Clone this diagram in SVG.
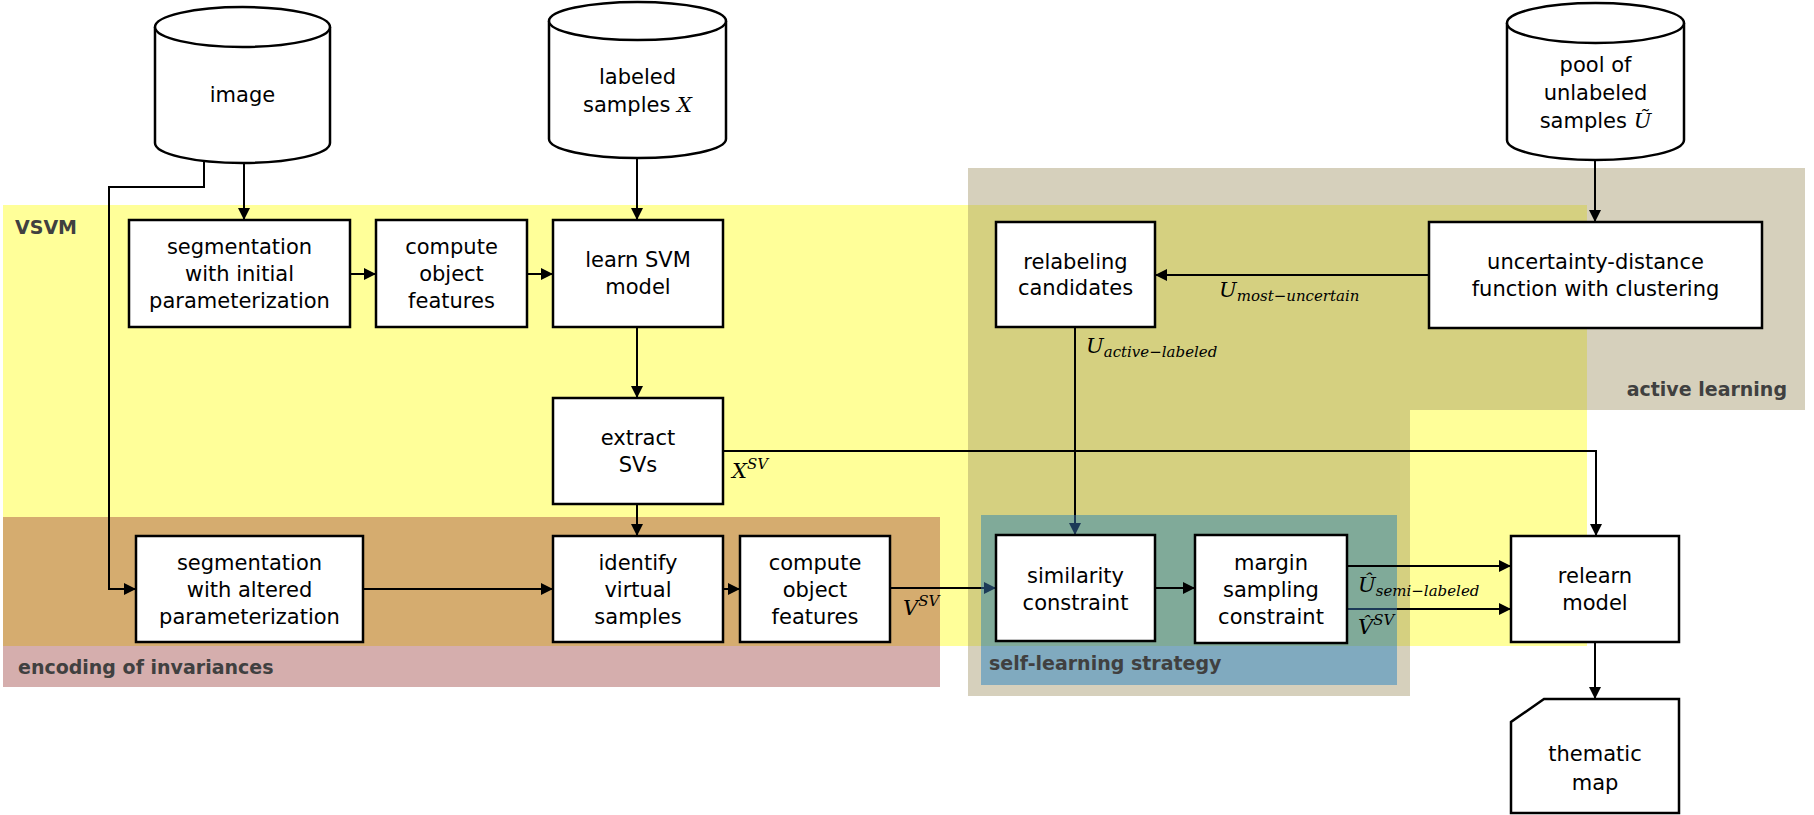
<svg xmlns="http://www.w3.org/2000/svg" width="1814" height="815" viewBox="0 0 1814 815">
<style>
.box{fill:#fff;stroke:#000;stroke-width:2.5}
.t{font-family:"DejaVu Sans",sans-serif;font-size:21px;fill:#000;text-anchor:middle}
.lab{font-family:"DejaVu Sans",sans-serif;font-size:19px;font-weight:bold;fill:#404040}
.m{font-family:"DejaVu Serif",serif;font-style:italic;font-size:21px;fill:#000}
.c{fill:none;stroke:#000;stroke-width:2}
.cn{fill:none;stroke:#1c3a58;stroke-width:2}
</style>
<defs>
<marker id="a" markerUnits="userSpaceOnUse" markerWidth="12" markerHeight="12" refX="12" refY="6" orient="auto"><path d="M0,0 L12,6 L0,12 Z" fill="#000"/></marker>
<marker id="an" markerUnits="userSpaceOnUse" markerWidth="12" markerHeight="12" refX="12" refY="6" orient="auto"><path d="M0,0 L12,6 L0,12 Z" fill="#1c3a58"/></marker>
</defs>
<g id="regions">
<rect x="3" y="205" width="1584" height="441" fill="#ffff99"/>
<path d="M968,168 H1805 V410 H1410 V696 H968 Z" fill="#d6d0bc"/>
<path d="M968,205 H1587 V410 H1410 V646 H968 Z" fill="#d5d080"/>
<rect x="3" y="517" width="937" height="129" fill="#d5ac6f"/>
<rect x="3" y="646" width="937" height="41" fill="#d5aead"/>
<rect x="981" y="515" width="416" height="131" fill="#80aa99"/>
<rect x="981" y="646" width="416" height="39" fill="#80aabf"/>
<text class="lab" x="15" y="234">VSVM</text>
<text class="lab" x="18" y="674">encoding of invariances</text>
<text class="lab" x="1787" y="396" text-anchor="end">active learning</text>
<text class="lab" x="989" y="670">self-learning strategy</text>
</g>
<g id="connectors">
<path class="c" d="M244,163 V220" marker-end="url(#a)"/>
<path class="c" d="M204,161 V187 H109 V589 H136" marker-end="url(#a)"/>
<path class="c" d="M637,158 V220" marker-end="url(#a)"/>
<path class="c" d="M350,274 H376" marker-end="url(#a)"/>
<path class="c" d="M527,274 H553" marker-end="url(#a)"/>
<path class="c" d="M637,327 V398" marker-end="url(#a)"/>
<path class="c" d="M637,504 V536" marker-end="url(#a)"/>
<path class="c" d="M723,451 H1596 V536" marker-end="url(#a)"/>
<path class="c" d="M363,589 H553" marker-end="url(#a)"/>
<path class="c" d="M723,589 H740" marker-end="url(#a)"/>
<path class="c" d="M890,588 H981"/>
<path class="cn" d="M981,588 H996" marker-end="url(#an)"/>
<path class="c" d="M1595,160 V222" marker-end="url(#a)"/>
<path class="c" d="M1429,275 H1155" marker-end="url(#a)"/>
<path class="c" d="M1075,327 V515"/>
<path class="cn" d="M1075,515 V535" marker-end="url(#an)"/>
<path class="c" d="M1155,588 H1195" marker-end="url(#a)"/>
<path class="c" d="M1347,566 H1511" marker-end="url(#a)"/>
<path class="cn" d="M1347,609 H1397"/>
<path class="c" d="M1397,609 H1511" marker-end="url(#a)"/>
<path class="c" d="M1595,642 V699" marker-end="url(#a)"/>
<text class="m" x="732" y="478">X<tspan font-size="15" dy="-9">SV</tspan></text>
<text class="m" x="903" y="615">V<tspan font-size="15" dy="-9">SV</tspan></text>
<text class="m" x="1219" y="297">U<tspan font-size="15" dy="4">most−uncertain</tspan></text>
<text class="m" x="1086" y="353">U<tspan font-size="15" dy="4">active−labeled</tspan></text>
<text class="m" x="1358" y="592">Û<tspan font-size="15" dy="4">semi−labeled</tspan></text>
<text class="m" x="1358" y="634">V̂<tspan font-size="15" dy="-9">SV</tspan></text>
</g>
<g id="image">
<path class="box" d="M155,27 A87.5,20 0 0 1 330,27 V143 A87.5,20 0 0 1 155,143 Z"/>
<path class="box" d="M155,27 A87.5,20 0 0 0 330,27" fill="none"/>
<text class="t" x="242.5" y="102">image</text>
</g>
<g id="labeled-samples">
<path class="box" d="M549,21 A88.5,19 0 0 1 726,21 V139 A88.5,19 0 0 1 549,139 Z"/>
<path class="box" d="M549,21 A88.5,19 0 0 0 726,21" fill="none"/>
<text class="t" x="637.5" y="84">labeled</text>
<text class="t" x="637.5" y="112">samples <tspan font-family="DejaVu Serif" font-style="italic">X</tspan></text>
</g>
<g id="pool">
<path class="box" d="M1507,23 A88.5,20 0 0 1 1684,23 V140 A88.5,20 0 0 1 1507,140 Z"/>
<path class="box" d="M1507,23 A88.5,20 0 0 0 1684,23" fill="none"/>
<text class="t" x="1595.5" y="72">pool of</text>
<text class="t" x="1595.5" y="100">unlabeled</text>
<text class="t" x="1595.5" y="128">samples <tspan font-family="DejaVu Serif" font-style="italic">Ũ</tspan></text>
</g>
<g id="seg-initial">
<rect class="box" x="129" y="220" width="221" height="107"/>
<text class="t" x="239.5" y="254">segmentation</text>
<text class="t" x="239.5" y="281">with initial</text>
<text class="t" x="239.5" y="308">parameterization</text>
</g>
<g id="compute1">
<rect class="box" x="376" y="220" width="151" height="107"/>
<text class="t" x="451.5" y="254">compute</text>
<text class="t" x="451.5" y="281">object</text>
<text class="t" x="451.5" y="308">features</text>
</g>
<g id="learn">
<rect class="box" x="553" y="220" width="170" height="107"/>
<text class="t" x="638" y="267">learn SVM</text>
<text class="t" x="638" y="294">model</text>
</g>
<g id="extract">
<rect class="box" x="553" y="398" width="170" height="106"/>
<text class="t" x="638" y="445">extract</text>
<text class="t" x="638" y="472">SVs</text>
</g>
<g id="seg-altered">
<rect class="box" x="136" y="536" width="227" height="106"/>
<text class="t" x="249.5" y="570">segmentation</text>
<text class="t" x="249.5" y="597">with altered</text>
<text class="t" x="249.5" y="624">parameterization</text>
</g>
<g id="identify">
<rect class="box" x="553" y="536" width="170" height="106"/>
<text class="t" x="638" y="570">identify</text>
<text class="t" x="638" y="597">virtual</text>
<text class="t" x="638" y="624">samples</text>
</g>
<g id="compute2">
<rect class="box" x="740" y="536" width="150" height="106"/>
<text class="t" x="815" y="570">compute</text>
<text class="t" x="815" y="597">object</text>
<text class="t" x="815" y="624">features</text>
</g>
<g id="relabeling">
<rect class="box" x="996" y="222" width="159" height="105"/>
<text class="t" x="1075.5" y="269">relabeling</text>
<text class="t" x="1075.5" y="295">candidates</text>
</g>
<g id="uncertainty">
<rect class="box" x="1429" y="222" width="333" height="106"/>
<text class="t" x="1595.5" y="269">uncertainty-distance</text>
<text class="t" x="1595.5" y="296">function with clustering</text>
</g>
<g id="similarity">
<rect class="box" x="996" y="535" width="159" height="106"/>
<text class="t" x="1075.5" y="583">similarity</text>
<text class="t" x="1075.5" y="610">constraint</text>
</g>
<g id="margin">
<rect class="box" x="1195" y="535" width="152" height="108"/>
<text class="t" x="1271" y="570">margin</text>
<text class="t" x="1271" y="597">sampling</text>
<text class="t" x="1271" y="624">constraint</text>
</g>
<g id="relearn">
<rect class="box" x="1511" y="536" width="168" height="106"/>
<text class="t" x="1595" y="583">relearn</text>
<text class="t" x="1595" y="610">model</text>
</g>
<g id="thematic-map">
<path class="box" d="M1544,699 H1679 V813 H1511 V722 Z"/>
<text class="t" x="1595" y="761">thematic</text>
<text class="t" x="1595" y="790">map</text>
</g>
</svg>
